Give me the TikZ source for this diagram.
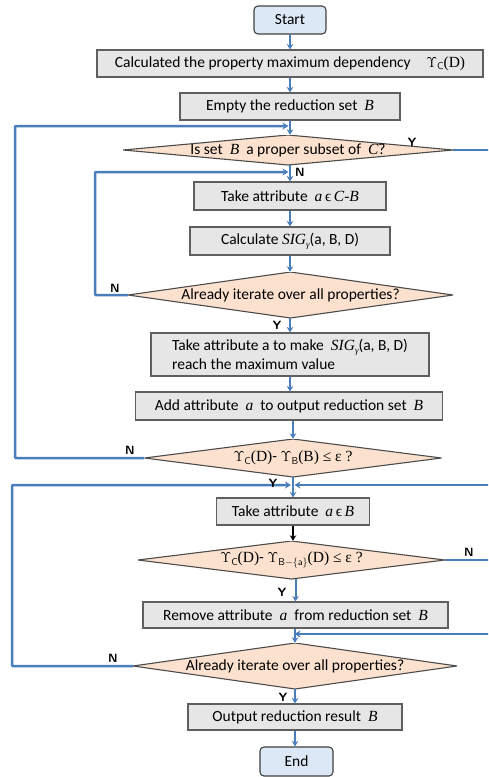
\documentclass[tikz,border=0pt]{standalone}
\usepackage{fontspec}
\setmainfont{Carlito}
\newfontfamily\cm{Liberation Serif}
\usetikzlibrary{arrows.meta}
\definecolor{lineblue}{RGB}{74,126,187}
\definecolor{boxfill}{RGB}{230,230,230}
\definecolor{boxdraw}{RGB}{95,95,95}
\definecolor{peach}{RGB}{251,225,206}
\definecolor{termfill}{RGB}{220,232,246}
\newcommand{\vi}[1]{{\cm\itshape #1}}
\newcommand{\ups}[1]{{\Large$\Upsilon$}\raisebox{-0.35ex}{\fontsize{10}{12}\selectfont\sffamily #1}}
\begin{document}
\begin{tikzpicture}[x=1pt,y=-1pt,
  txt/.style={font=\fontsize{15.5}{19}\selectfont},
  box/.style={txt, rectangle, draw=boxdraw, fill=boxfill, line width=1.1pt, inner sep=0pt},
  term/.style={txt, rectangle, rounded corners=4pt, draw=black!75, fill=termfill, line width=1.1pt, inner sep=0pt},
  dia/.style={txt, rectangle, inner sep=0pt,
    path picture={\filldraw[fill=peach, draw=black!70, line width=1.1pt]
      (path picture bounding box.west) -- (path picture bounding box.north) --
      (path picture bounding box.east) -- (path picture bounding box.south) -- cycle;}},
  arr/.style={draw=lineblue, line width=2pt, -{Stealth[length=5.5pt,width=6.5pt]}},
  looparr/.style={draw=lineblue, line width=2.5pt, -{Stealth[length=6pt,width=7pt]}},
  lbl/.style={font=\fontsize{12}{14}\selectfont\sffamily\bfseries, inner sep=0pt}
]
\useasboundingbox (0,0) rectangle (488,777);
\clip (0,0) rectangle (488,777);

\node[term, minimum width=72, minimum height=28] (start) at (290,20) {Start};
\node[box, minimum width=386, minimum height=27] (calc) at (290,63.5)
  {Calculated the property maximum dependency\quad\ups{C}{\cm(D)}};
\node[box, minimum width=220, minimum height=27] (empty) at (290,106.5)
  {Empty the reduction set\ \ \vi{B}};
\node[dia, minimum width=330, minimum height=30] (d1) at (288,150)
  {Is set\ \ \vi{B}\ \ a proper subset of\ \ \vi{C}?};
\node[box, minimum width=192, minimum height=28] (takecb) at (290,196)
  {Take attribute\ \ \vi{a}\,{\cm ϵ}\,\vi{C-B}};
\node[box, minimum width=200, minimum height=28] (sig) at (290,241)
  {Calculate \vi{SIG}\raisebox{-0.4ex}{\fontsize{9}{10}\selectfont\cm\itshape γ}(a, B, D)};
\node[dia, minimum width=325, minimum height=46] (d2) at (290.5,295)
  {Already iterate over all properties?};
\node[box, minimum width=278, minimum height=43, align=left] (make) at (290,354.5)
  {Take\ attribute\ a\ to\ make\ \ \vi{SIG}\raisebox{-0.4ex}{\fontsize{9}{10}\selectfont\cm\itshape γ}(a, B, D)\\reach the maximum value};
\node[box, minimum width=307, minimum height=28] (add) at (289,406)
  {Add attribute\ \ \vi{a}\ \ to output reduction set\ \ \vi{B}};
\node[dia, minimum width=297, minimum height=38] (d3) at (293,458)
  {\ups{C}{\cm(D)}- \ups{B}{\cm(B) ≤ ε ?}};
\node[box, minimum width=153, minimum height=27] (takeb) at (293,511.5)
  {Take attribute\ \ \vi{a}\,{\cm ϵ}\,\vi{B}};
\node[dia, minimum width=307, minimum height=38] (d4) at (291.5,560)
  {\ups{C}{\cm(D)}- \ups{B$-$\{a\}}{\cm(D) ≤ ε ?}};
\node[box, minimum width=305, minimum height=26] (remove) at (295.5,615)
  {Remove attribute\ \ \vi{a}\ \ from reduction set\ \ \vi{B}};
\node[dia, minimum width=324, minimum height=46] (d5) at (295,666)
  {Already iterate over all properties?};
\node[box, minimum width=214, minimum height=26] (out) at (295,717)
  {Output reduction result\ \ \vi{B}};
\node[term, minimum width=73, minimum height=29] (endn) at (296.5,761.5) {End};

% merge points
\coordinate (m1) at (288.5,126);
\coordinate (m2) at (288.5,172);
\coordinate (m3l) at (291,485);
\coordinate (m3r) at (294.5,485);
\coordinate (m4) at (294.5,634);
% outer corners
\coordinate (c1a) at (15,458);
\coordinate (c1b) at (15,126);
\coordinate (c2a) at (95,295);
\coordinate (c2b) at (95,172);
\coordinate (c3a) at (12,666);
\coordinate (c3b) at (12,485);
\coordinate (r1a) at (497,150);
\coordinate (r1b) at (497,485);
\coordinate (r2a) at (497,560);
\coordinate (r2b) at (497,634);

% main flow
\draw[arr] (start.south) -- (start.south |- calc.north);
\draw[arr] (calc.south) -- (calc.south |- empty.north);
\draw[arr] (empty.south) -- (empty.south |- d1.north);
\draw[arr] (d1.south -| takecb) -- (takecb.north);
\draw[arr] (takecb.south) -- (sig.north);
\draw[arr] (sig.south) -- (sig.south |- d2.north);
\draw[arr] (d2.south -| make) -- (make.north);
\draw[arr] (make.south) -- (make.south |- add.north);
\draw[arr] (add.south -| d3) -- (d3.north);
\draw[arr] (d3.south) -- (takeb.north);
\draw[draw=black, line width=1.5pt, -{Stealth[length=5.5pt,width=6.5pt]}] (takeb.south) -- (takeb.south |- d4.north);
\draw[arr] (d4.south -| remove) -- (remove.north);
\draw[arr] (remove.south -| d5) -- (d5.north);
\draw[arr] (d5.south) -- (out.north -| d5);
\draw[arr] (out.south) -- (out.south |- endn.north);

% loops
\draw[looparr, rounded corners=1pt] (d3.west) -- (c1a) -- (c1b) -- (m1);
\draw[looparr, rounded corners=1pt] (d2.west) -- (c2a) -- (c2b) -- (m2);
\draw[looparr, rounded corners=1pt] (d5.west) -- (c3a) -- (c3b) -- (m3l);
\draw[looparr] (d1.east) -- (r1a) -- (r1b) -- (m3r);
\draw[looparr] (d4.east) -- (r2a) -- (r2b) -- (m4);

% labels
\node[lbl] (y1) at (412,142) {Y};
\node[lbl] (n1) at (300,172) {N};
\node[lbl] (n2) at (115,288) {N};
\node[lbl] (y2) at (277,325) {Y};
\node[lbl] (n3) at (130,450) {N};
\node[lbl] (y3) at (273,483) {Y};
\node[lbl] (n4) at (469,552) {N};
\node[lbl] (y4) at (282,592) {Y};
\node[lbl] (n5) at (113,658) {N};
\node[lbl] (y5) at (283,697) {Y};
\end{tikzpicture}
\end{document}
